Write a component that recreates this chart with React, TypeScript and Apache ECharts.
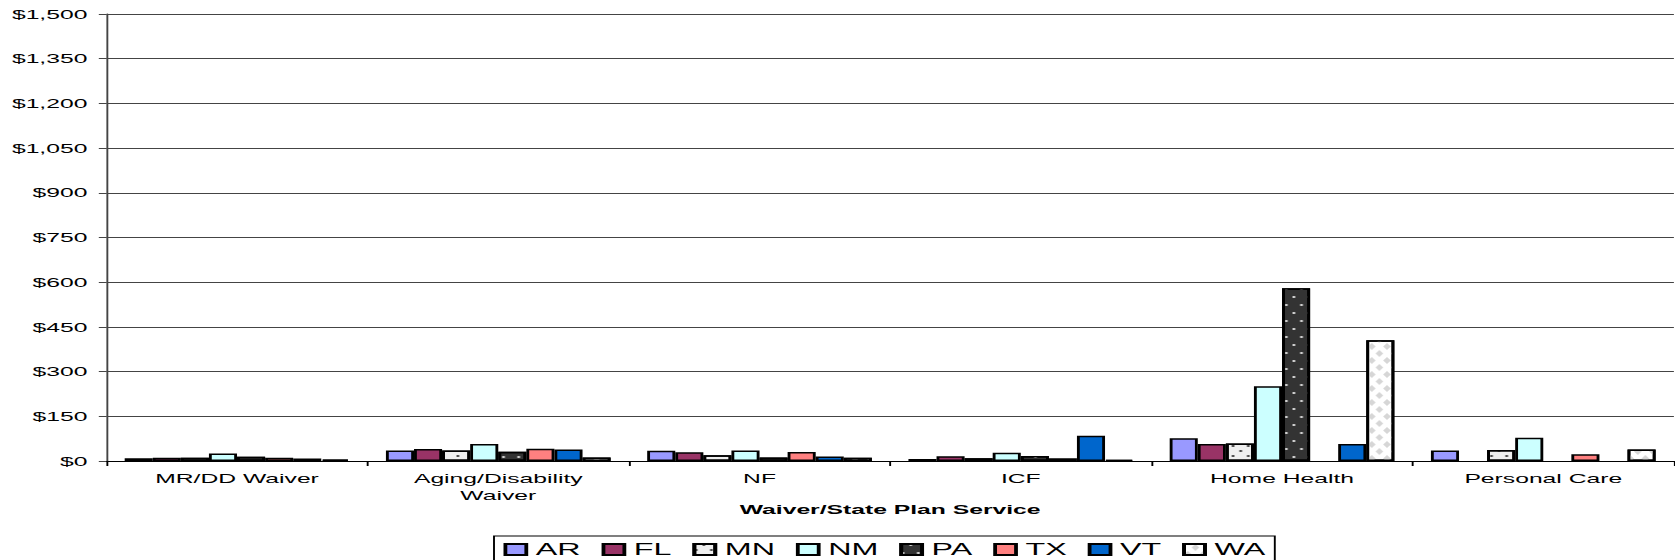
import React, { useEffect, useRef } from "react";
import * as echarts from "echarts";

// Service categories along the x axis
const categories = [
  "MR/DD Waiver",
  "Aging/Disability\nWaiver",
  "NF",
  "ICF",
  "Home Health",
  "Personal Care",
];

// Per-state values (dollars); null = no bar
const AR = [9, 35, 34, 7, 76, 35];
const FL = [11, 40, 29, 16, 57, null];
const MN = [11, 35, 19, 9, 59, 37];
const NM = [25, 57, 35, 28, 251, 78];
const PA = [14, 31, 12, 17, 580, null];
const TX = [11, 41, 30, 9, null, 23];
const VT = [8, 39, 15, 85, 57, null];
const WA = [5, 12, 11, 3, 405, 39];

const yMin = 0;
const yMax = 1500;
const yStep = 150;

const xAxisTitle = "Waiver/State Plan Service";

// The chart is laid out narrow and stretched horizontally.
const STRETCH = 1.9;
const PAGE_W = 1675;
const PAGE_H = 560;

const FONT = "'Liberation Sans', Arial, sans-serif";

// Staggered dot patterns
const dotsDense = { symbol: "circle", symbolSize: 0.9, dashArrayX: [[2, 6], [0, 4, 2, 2]], dashArrayY: [2, 3] };
const dotsSparse = { symbol: "circle", symbolSize: 0.9, dashArrayX: [[2, 6], [0, 4, 2, 2]], dashArrayY: [2, 6] };

const seriesDefs: { name: string; data: (number | null)[]; color: string; decal?: any }[] = [
  { name: "AR", data: AR, color: "#9999FF" },
  { name: "FL", data: FL, color: "#993366" },
  { name: "MN", data: MN, color: "#EFEFEF", decal: { ...dotsDense, color: "#333333" } },
  { name: "NM", data: NM, color: "#CCFFFF" },
  { name: "PA", data: PA, color: "#333333", decal: { ...dotsSparse, color: "#E8E8E8" } },
  { name: "TX", data: TX, color: "#FF8080" },
  { name: "VT", data: VT, color: "#0066CC" },
  {
    name: "WA",
    data: WA,
    color: "#FFFFFF",
    decal: {
      symbol: "diamond",
      symbolSize: 1,
      symbolKeepAspect: false,
      color: "#D6D6D6",
      dashArrayX: [[4, 4], [0, 4, 4, 0]],
      dashArrayY: [7, 0],
    },
  },
];

export default function App() {
  const ref = useRef<HTMLDivElement>(null);

  useEffect(() => {
    if (!ref.current) return;
    const chart = echarts.init(ref.current, null, { renderer: "svg" });

    chart.setOption({
      animation: false,
      backgroundColor: "#FFFFFF",
      textStyle: { fontFamily: FONT, color: "#000" },
      grid: { left: 56, right: 1, top: 14, bottom: 99, containLabel: false },
      legend: {
        left: 260,
        top: 536,
        orient: "horizontal",
        itemWidth: 11,
        itemHeight: 11,
        itemGap: 11,
        padding: [5, 5, 5, 5],
        borderColor: "#000",
        borderWidth: 1,
        icon: "rect",
        textStyle: { fontSize: 17, color: "#000", fontFamily: FONT },
        data: seriesDefs.map((s) => s.name),
      },
      xAxis: {
        type: "category",
        data: categories,
        name: xAxisTitle,
        nameLocation: "middle",
        nameGap: 42,
        nameMoveOverlap: false,
        nameTextStyle: { fontSize: 13, fontWeight: "bold", color: "#000", fontFamily: FONT },
        axisLine: { lineStyle: { color: "#000", width: 1 } },
        axisTick: { show: true, length: 5, lineStyle: { color: "#000" } },
        axisLabel: { fontSize: 13, color: "#000", margin: 9, lineHeight: 17, fontFamily: FONT },
        splitLine: { show: false },
      },
      yAxis: {
        type: "value",
        min: yMin,
        max: yMax,
        interval: yStep,
        axisLine: { show: true, lineStyle: { color: "#444", width: 1 } },
        axisTick: { show: true, length: 4, lineStyle: { color: "#444" } },
        axisLabel: {
          fontSize: 13,
          color: "#000",
          margin: 10,
          fontFamily: FONT,
          formatter: (v: number) => "$" + v.toLocaleString("en-US"),
        },
        splitLine: { show: true, lineStyle: { color: "#444", width: 1 } },
      },
      series: seriesDefs.map((s) => ({
        name: s.name,
        type: "bar",
        data: s.data,
        barGap: "0%",
        barCategoryGap: "14%",
        itemStyle: {
          color: s.color,
          borderColor: "#000",
          borderWidth: 1.5,
          ...(s.decal ? { decal: s.decal } : {}),
        },
        emphasis: { disabled: true },
      })),
    });

    return () => chart.dispose();
  }, []);

  return (
    <div
      style={{
        position: "absolute",
        left: 0,
        top: 0,
        width: PAGE_W,
        height: PAGE_H,
        overflow: "hidden",
        background: "#fff",
      }}
    >
      <div
        ref={ref}
        style={{
          width: PAGE_W / STRETCH,
          height: PAGE_H,
          transform: `scaleX(${STRETCH})`,
          transformOrigin: "left top",
        }}
      />
    </div>
  );
}
